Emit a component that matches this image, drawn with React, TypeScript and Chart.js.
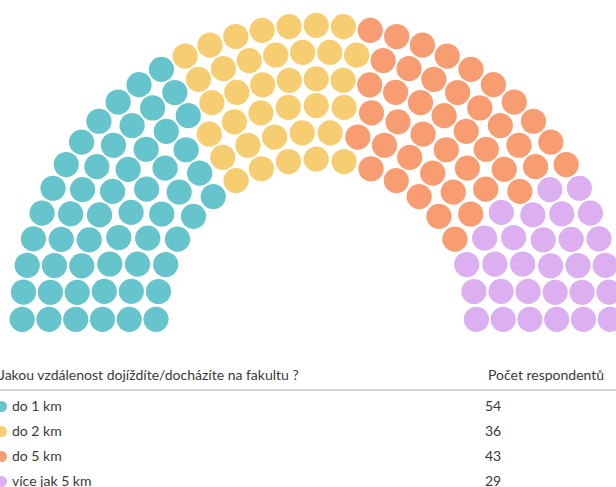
import React, { useEffect, useRef } from "react";
import { Chart, registerables } from "chart.js";

Chart.register(...registerables);

const categories = ["do 1 km", "do 2 km", "do 5 km", "více jak 5 km"];
const values = [54, 36, 43, 29];
const colors = ["#66c4cc", "#f6ce71", "#f89d72", "#dcaff0"];
const headerLabel = "Jakou vzdálenost dojíždíte/docházíte na fakultu ?";
const headerValue = "Počet respondentů";

const ROWS = 6;
const INNER_R = 160.2;
const OUTER_R = 294;
const CENTER_X = 316.2;
const CENTER_Y = 319.3;
const CANVAS_W = 616;
const CANVAS_H = 345;
const SEAT_R = 12.6;

type Seat = { angle: number; r: number };

function parliamentSeats(total: number): Seat[] {
  const step = (OUTER_R - INNER_R) / (ROWS - 1);
  const radii = Array.from({ length: ROWS }, (_, i) => INNER_R + i * step);
  const sumR = radii.reduce((a, b) => a + b, 0);
  const counts = radii.map((r) => Math.round((total * r) / sumR));
  let diff = total - counts.reduce((a, b) => a + b, 0);
  let k = ROWS - 1;
  while (diff !== 0) {
    counts[k] += diff > 0 ? 1 : -1;
    diff += diff > 0 ? -1 : 1;
    k = (k - 1 + ROWS) % ROWS;
  }
  const seats: Seat[] = [];
  radii.forEach((r, i) => {
    const n = counts[i];
    for (let j = 0; j < n; j++) {
      seats.push({ angle: Math.PI * (1 - j / (n - 1)), r });
    }
  });
  seats.sort((a, b) => (Math.abs(b.angle - a.angle) > 1e-9 ? b.angle - a.angle : a.r - b.r));
  return seats;
}

function ParliamentChart() {
  const ref = useRef<HTMLCanvasElement | null>(null);
  useEffect(() => {
    if (!ref.current) return;
    const total = values.reduce((a, b) => a + b, 0);
    const seats = parliamentSeats(total);
    let idx = 0;
    const datasets = categories.map((label, c) => {
      const pts = seats.slice(idx, idx + values[c]).map((s) => ({
        x: s.r * Math.cos(s.angle),
        y: s.r * Math.sin(s.angle),
      }));
      idx += values[c];
      return {
        label,
        data: pts,
        backgroundColor: colors[c],
        borderColor: colors[c],
        borderWidth: 0,
        pointRadius: SEAT_R,
        pointHoverRadius: SEAT_R,
        pointStyle: "circle" as const,
        clip: false as const,
      };
    });
    const chart = new Chart(ref.current, {
      type: "scatter",
      data: { datasets },
      options: {
        responsive: false,
        animation: false,
        events: [],
        layout: { padding: 0, autoPadding: false },
        plugins: { legend: { display: false }, tooltip: { enabled: false } },
        scales: {
          x: { type: "linear", display: false, min: -CENTER_X, max: CANVAS_W - CENTER_X },
          y: { type: "linear", display: false, min: -(CANVAS_H - CENTER_Y), max: CENTER_Y },
        },
      },
    });
    return () => chart.destroy();
  }, []);
  return <canvas ref={ref} width={CANVAS_W} height={CANVAS_H} style={{ display: "block", width: CANVAS_W, height: CANVAS_H }} />;
}

const textStyle: React.CSSProperties = {
  position: "absolute",
  fontFamily: "Lato, 'Open Sans', sans-serif",
  fontSize: 14,
  lineHeight: "20px",
  color: "#3a3a3a",
  whiteSpace: "nowrap",
};

const rowCenters = [406, 431, 456, 481];

export default function App() {
  return (
    <div style={{ position: "absolute", left: 0, top: 0, width: 616, height: 487, overflow: "hidden", background: "#fff" }}>
      <ParliamentChart />
      <div style={{ ...textStyle, left: -1, top: 375 - 10 }}>{headerLabel}</div>
      <div style={{ ...textStyle, left: 488, top: 375 - 10 }}>{headerValue}</div>
      <div style={{ position: "absolute", left: 0, top: 389, width: 616, height: 0, borderTop: "2px solid #d4d4d4" }} />
      {categories.map((cat, i) => (
        <React.Fragment key={cat}>
          <div
            style={{
              position: "absolute",
              left: 1 - 5.5,
              top: rowCenters[i] - 5.5,
              width: 11,
              height: 11,
              borderRadius: "50%",
              background: colors[i],
            }}
          />
          <div style={{ ...textStyle, left: 12, top: rowCenters[i] - 10 }}>{cat}</div>
          <div style={{ ...textStyle, left: 485, top: rowCenters[i] - 10 }}>{values[i]}</div>
        </React.Fragment>
      ))}
    </div>
  );
}
